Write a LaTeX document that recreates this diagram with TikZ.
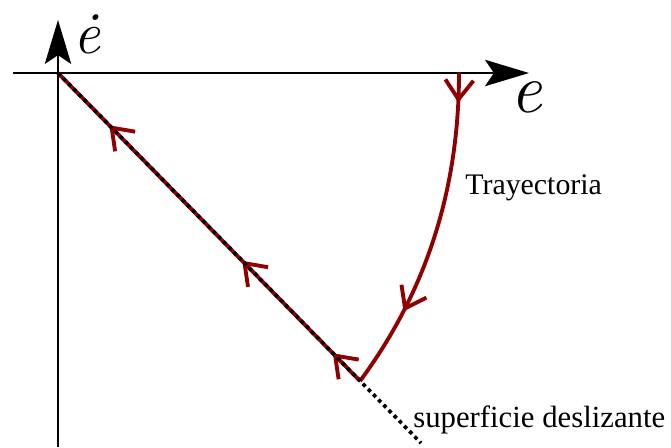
\documentclass[tikz,border=0pt]{standalone}
\usepackage{fontspec}
\setmainfont{Liberation Serif}
\newfontfamily\lmfont{Latin Modern Roman}
\usetikzlibrary{arrows.meta,decorations.markings}
\definecolor{traj}{RGB}{145,0,0}
\begin{document}
\begin{tikzpicture}[x=0.02cm,y=-0.02cm,
  axis/.style={line width=1.3pt,-{Stealth[length=25pt,width=15pt,inset=5pt]}},
  redline/.style={traj,line width=2.2pt},
  surfdots/.style={black,line width=2.1pt,dash pattern=on 2.1pt off 2.1pt},
  lbl/.style={inner sep=0pt,anchor=base west,font=\fontsize{17}{20}\selectfont}]
\useasboundingbox (0,0) rectangle (671,447);
\coordinate (O) at (58,73);
\coordinate (ybot) at (58,447);
\coordinate (ytop) at (58,20);
\coordinate (xleft) at (13,73);
\coordinate (xright) at (529,73);
\coordinate (S) at (459,73);
\coordinate (R) at (360,381);
\coordinate (E) at (421,443);
% axes
\draw[axis] (ybot) -- (ytop);
\draw[axis] (xleft) -- (xright);
% trajectory curve
\draw[redline,postaction={decorate},decoration={markings,
  mark=at position 0.09 with {\arrow[traj]{Straight Barb[length=11pt,width=16pt]}},
  mark=at position 0.75 with {\arrow[traj]{Straight Barb[length=11pt,width=16pt]}}}]
  (S) .. controls (459,200) and (420,300) .. (R);
% sliding motion
\draw[redline,postaction={decorate},decoration={markings,
  mark=at position 0.09 with {\arrow[traj]{Straight Barb[length=11pt,width=16pt]}},
  mark=at position 0.39 with {\arrow[traj]{Straight Barb[length=11pt,width=16pt]}},
  mark=at position 0.83 with {\arrow[traj]{Straight Barb[length=11pt,width=16pt]}}}]
  (R) -- (O);
% sliding surface
\draw[surfdots] (O) -- (E);
% labels
\node[inner sep=0pt,anchor=base,font=\lmfont\itshape\fontsize{34}{38}\selectfont] (edot) at (87,53) {\.{e}};
\node[inner sep=0pt,anchor=base,font=\lmfont\itshape\fontsize{40}{44}\selectfont] (e) at (526,112) {e};
\node[lbl] (tray) at (465,194) {Trayectoria};
\node[lbl,font=\fontsize{17.5}{20}\selectfont] (sup) at (413,427) {superficie deslizante};
\end{tikzpicture}
\end{document}
